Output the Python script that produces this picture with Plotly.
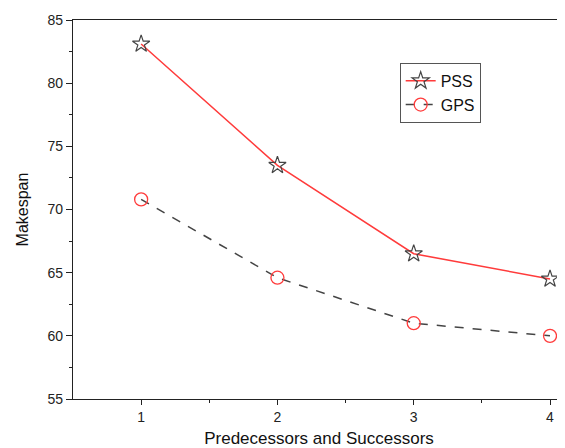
import plotly.graph_objects as go

x_vals = [1, 2, 3, 4]
pss = [83.1, 73.5, 66.5, 64.5]
gps = [70.8, 64.6, 61.0, 60.0]

fig = go.Figure()
fig.add_trace(go.Scatter(
    x=x_vals, y=pss, name="PSS", mode="lines+markers",
    line=dict(color="#ff3b3b", width=1.5),
    marker=dict(symbol="star-open", size=13, color="#444444", line=dict(width=1.2, color="#444444")),
))
fig.add_trace(go.Scatter(
    x=x_vals, y=gps, name="GPS", mode="lines+markers",
    line=dict(color="#444444", width=1.5, dash="dash"),
    marker=dict(symbol="circle-open", size=13, color="#ff3b3b", line=dict(width=1.3, color="#ff3b3b")),
))

# page body has an 8px default margin, so the figure is sized to fill the rest
axis_font = dict(family="Liberation Sans, Arial", size=14, color="#222222")
fig.update_layout(
    width=557, height=440,
    margin=dict(l=65, r=0, t=12, b=49, autoexpand=False),
    paper_bgcolor="white", plot_bgcolor="white",
    font=dict(family="Liberation Sans, Arial", color="#111111"),
    showlegend=True,
    legend=dict(
        x=0.664, y=0.887, xanchor="left", yanchor="top",
        bordercolor="#555555", borderwidth=1, bgcolor="white",
        font=dict(size=16, family="Liberation Sans, Arial", color="#111111"),
        tracegroupgap=0, itemsizing="trace",
    ),
    xaxis=dict(
        range=[0.5, 4.11], tickvals=[1, 2, 3, 4], ticktext=["1", "2", "3", "4"],
        automargin=False,
        showgrid=False, zeroline=False, showline=True, linecolor="#222222", linewidth=1.2,
        mirror=True, ticks="outside", ticklen=5, tickcolor="#222222", tickwidth=1,
        tickfont=axis_font,
        minor=dict(tickvals=[1.5, 2.5, 3.5], ticks="outside", ticklen=3, tickcolor="#222222"),
        title=dict(text="Predecessors and Successors", font=dict(size=17, family="Liberation Sans, Arial", color="#111111"), standoff=12),
    ),
    yaxis=dict(
        range=[55, 85], dtick=5, tick0=55,
        automargin=False,
        showgrid=False, zeroline=False, showline=True, linecolor="#222222", linewidth=1.2,
        ticks="outside", ticklen=6, tickcolor="#222222", tickwidth=1,
        tickfont=axis_font,
        minor=dict(dtick=2.5, ticks="outside", ticklen=3, tickcolor="#222222"),
        title=dict(text="Makespan", font=dict(size=16, family="Liberation Sans, Arial", color="#111111"), standoff=14),
    ),
)

fig.write_html("out.html")
